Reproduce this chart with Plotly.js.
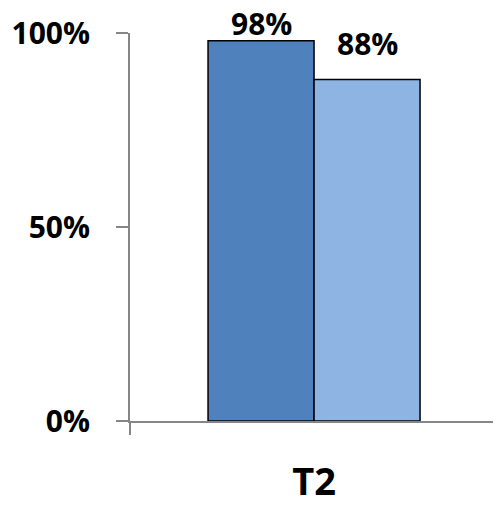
<!DOCTYPE html>
<html>
<head>
<meta charset="utf-8">
<script src="https://cdn.plot.ly/plotly-3.0.1.min.js"></script>
<style>html,body{margin:0;padding:0;background:#fff;}#chart{width:500px;height:508px;}</style>
</head>
<body>
<div id="chart"></div>
<script>
const categories = ['T2'];
const series1 = [98];
const series2 = [88];
const yTickVals = [0, 50, 100];
const yTickText = ['0%', '50%', '100%'];

const FONT = '"Open Sans", Lato, sans-serif';
const bargap = 0.416;
const half = (1 - bargap) / 4;

const traces = [
  {type: 'bar', x: categories, y: series1, marker: {color: '#4F81BD', line: {color: '#000', width: 1.5}}, hoverinfo: 'none'},
  {type: 'bar', x: categories, y: series2, marker: {color: '#8EB4E3', line: {color: '#000', width: 1.5}}, hoverinfo: 'none'}
];

const labelShift = [-5, 14];
const annotations = [series1, series2].map((s, i) => ({
  x: (i === 0 ? -half : half), y: s[0], xref: 'x', yref: 'y',
  text: '<b>' + s[0] + '%</b>', showarrow: false, yanchor: 'bottom', yshift: labelShift[i],
  font: {family: FONT, size: 30, color: '#000'}
}));

const layout = {
  width: 500, height: 508,
  margin: {l: 130, r: 7, t: 32.5, b: 87},
  paper_bgcolor: '#fff', plot_bgcolor: '#fff',
  showlegend: false,
  barmode: 'group', bargap: bargap, bargroupgap: 0,
  font: {family: FONT, color: '#000'},
  xaxis: {
    type: 'category', range: [-0.507, 0.493],
    tickvals: categories, ticktext: categories.map(c => '<b>' + c + '</b>'),
    showline: true, linecolor: '#868686', linewidth: 2,
    ticks: '', showgrid: false, zeroline: false,
    tickfont: {family: FONT, size: 38, color: '#000'},
    ticklabelstandoff: 26
  },
  yaxis: {
    range: [0, 100], tickvals: yTickVals, ticktext: yTickText.map(t => '<b>' + t + '</b>'),
    showline: true, linecolor: '#868686', linewidth: 2,
    ticks: 'outside', ticklen: 12, tickcolor: '#868686', tickwidth: 2,
    showgrid: false, zeroline: false,
    tickfont: {family: FONT, size: 30, color: '#000'},
    ticklabelstandoff: 20
  },
  shapes: [{type: 'line', xref: 'paper', yref: 'paper', x0: 0, x1: 0, y0: 0, y1: -0.036,
    line: {color: '#868686', width: 2}}],
  annotations: annotations
};

Plotly.newPlot('chart', traces, layout, {displayModeBar: false, staticPlot: true});
</script>
</body>
</html>
